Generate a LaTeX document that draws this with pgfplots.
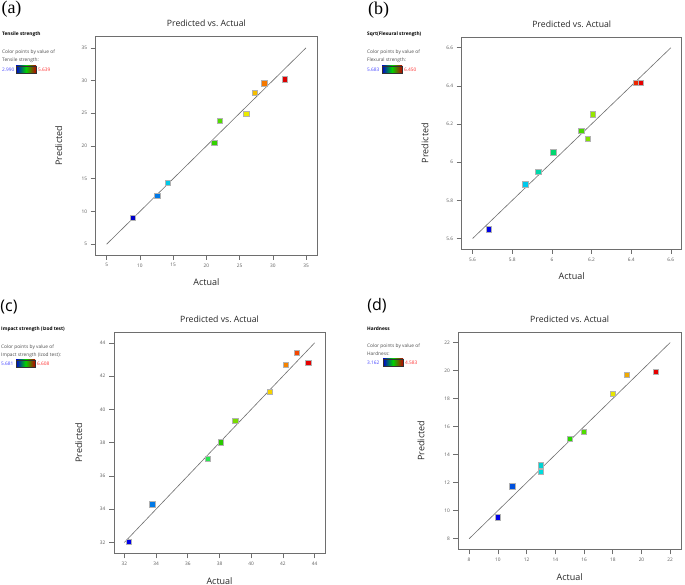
\documentclass[border=0pt]{standalone}
\usepackage{fontspec}
\setmainfont{Open Sans}
\newfontfamily\serifL{Liberation Serif}
\usepackage{pgfplots}
\pgfplotsset{compat=1.18}

% point colours, per panel, lowest to highest response
\definecolor{A1}{RGB}{0,0,200}\definecolor{A2}{RGB}{0,120,230}\definecolor{A3}{RGB}{0,200,230}
\definecolor{A4}{RGB}{50,210,0}\definecolor{A5}{RGB}{80,220,0}\definecolor{A6}{RGB}{235,235,0}
\definecolor{A7}{RGB}{245,190,0}\definecolor{A8}{RGB}{245,120,0}\definecolor{A9}{RGB}{220,0,0}
\definecolor{B1}{RGB}{0,0,230}\definecolor{B2}{RGB}{0,200,235}\definecolor{B3}{RGB}{0,215,170}
\definecolor{B4}{RGB}{0,215,110}\definecolor{B5}{RGB}{70,215,0}\definecolor{B6}{RGB}{130,225,0}
\definecolor{B7}{RGB}{150,230,0}\definecolor{B8}{RGB}{235,40,0}\definecolor{B9}{RGB}{230,0,0}
\definecolor{C1}{RGB}{0,0,230}\definecolor{C2}{RGB}{0,120,230}\definecolor{C3}{RGB}{40,230,80}
\definecolor{C4}{RGB}{40,200,0}\definecolor{C5}{RGB}{120,220,0}\definecolor{C6}{RGB}{245,210,0}
\definecolor{C7}{RGB}{245,130,0}\definecolor{C8}{RGB}{245,70,0}\definecolor{C9}{RGB}{230,0,0}
\definecolor{D1}{RGB}{0,0,230}\definecolor{D2}{RGB}{0,80,220}\definecolor{D3}{RGB}{0,220,220}
\definecolor{D4}{RGB}{0,210,210}\definecolor{D5}{RGB}{40,215,0}\definecolor{D6}{RGB}{80,220,0}
\definecolor{D7}{RGB}{230,230,0}\definecolor{D8}{RGB}{240,170,0}\definecolor{D9}{RGB}{230,0,0}
\definecolor{frame}{RGB}{110,110,110}
\definecolor{tlab}{RGB}{90,90,90}
\definecolor{lowc}{RGB}{70,70,255}
\definecolor{highc}{RGB}{255,50,50}
\definecolor{barlo}{RGB}{0,0,210}
\definecolor{barmid}{RGB}{0,210,0}
\definecolor{barhi}{RGB}{190,0,0}

\pgfplotsset{
    pva/.style={
        scale only axis, anchor=south west,
        axis line style={frame, line width=0.8pt},
        tick align=outside, xtick pos=bottom, ytick pos=left,
        major tick length=5pt,
        tick style={frame, line width=0.6pt},
        tick label style={font=\fontsize{4.8}{6}\selectfont, text=tlab},
        /pgf/number format/assume math mode=true,
        title={Predicted vs.\ Actual},
        title style={at={(axis description cs:0.5,1)}, anchor=center, yshift=7pt,
            font=\fontsize{8.7}{10}\selectfont, text=black!85},
        xlabel={Actual}, ylabel={Predicted},
        every axis x label/.style={at={(axis description cs:0.5,0)}, anchor=center,
            yshift=-27.5pt, font=\fontsize{9}{10}\selectfont, text=black!85},
        every axis y label/.style={at={(axis description cs:-0.167,0.5)}, anchor=center,
            rotate=90, font=\fontsize{9}{10}\selectfont, text=black!85},
        clip=false,
    },
    fit/.style={color=frame, line width=0.6pt, no marks},
    pt/.style={only marks, mark=square*, mark size=2.6pt,
        mark options={draw=black!30, fill=#1, line width=0.5pt}},
}
\tikzset{
    small/.style={anchor=west, inner sep=0pt, font=\fontsize{4.8}{6}\selectfont},
    bar/.style={draw=black!80, line width=0.4pt, left color=barlo,
        right color=barhi, middle color=barmid},
}

\begin{document}
\begin{tikzpicture}
\path[use as bounding box] (0pt,0pt) rectangle (685pt,585pt);

% ---------- (a) ----------
\node[font=\serifL\fontsize{18}{20}\selectfont, inner sep=0pt] at (11.5pt,576pt) {(a)};
\node[small, font=\bfseries\fontsize{4.8}{6}\selectfont] at (2pt,551pt) {Tensile strength};
\node[small, text=black!70] at (2pt,533pt) {Color points by value of};
\node[small, text=black!70] at (2pt,525pt) {Tensile strength:};
\node[small, text=lowc] at (2pt,515.5pt) {2.990};
\shade[bar] (16pt,512pt) rectangle (36pt,519pt);
\node[small, text=highc] at (38pt,515.5pt) {5.639};

\begin{axis}[pva, at={(95.7pt,330pt)}, width=221.3pt, height=218.3pt,
    xmin=3.35, xmax=36.65, ymin=3.35, ymax=36.7,
    xtick={5,10,...,35}, ytick={5,10,...,35}]
\addplot[fit] coordinates {(5,5) (35,35)};
\addplot[pt=A1] coordinates {(8.9,9.0)};
\addplot[pt=A2] coordinates {(12.6,12.4)};
\addplot[pt=A3] coordinates {(14.2,14.4)};
\addplot[pt=A4] coordinates {(21.2,20.5)};
\addplot[pt=A5] coordinates {(22.0,23.8)};
\addplot[pt=A6] coordinates {(26.0,24.9)};
\addplot[pt=A7] coordinates {(27.3,28.1)};
\addplot[pt=A8] coordinates {(28.7,29.6)};
\addplot[pt=A9] coordinates {(31.8,30.2)};
\end{axis}

% ---------- (b) ----------
\node[font=\serifL\fontsize{18}{20}\selectfont, inner sep=0pt] at (378.5pt,575pt) {(b)};
\node[small, font=\bfseries\fontsize{4.8}{6}\selectfont] at (367pt,551pt) {Sqrt(Flexural strength)};
\node[small, text=black!70] at (367pt,533pt) {Color points by value of};
\node[small, text=black!70] at (367pt,525pt) {Flexural strength:};
\node[small, text=lowc] at (367pt,515.5pt) {5.683};
\shade[bar] (382pt,512pt) rectangle (402pt,519pt);
\node[small, text=highc] at (404pt,515.5pt) {6.450};

\begin{axis}[pva, at={(461.7pt,336pt)}, width=220pt, height=211.7pt,
    xmin=5.545, xmax=6.655, ymin=5.545, ymax=6.655,
    xtick={5.6,5.8,6,6.2,6.4,6.6}, ytick={5.6,5.8,6,6.2,6.4,6.6}]
\addplot[fit] coordinates {(5.6,5.6) (6.6,6.6)};
\addplot[pt=B1] coordinates {(5.683,5.649)};
\addplot[pt=B2] coordinates {(5.866,5.884)};
\addplot[pt=B3] coordinates {(5.931,5.952)};
\addplot[pt=B4] coordinates {(6.007,6.052)};
\addplot[pt=B5] coordinates {(6.148,6.167)};
\addplot[pt=B6] coordinates {(6.180,6.122)};
\addplot[pt=B7] coordinates {(6.205,6.251)};
\addplot[pt=B8] coordinates {(6.424,6.418)};
\addplot[pt=B9] coordinates {(6.450,6.418)};
\end{axis}

% ---------- (c) ----------
\node[font=\fontsize{16}{18}\selectfont, inner sep=0pt] at (9pt,277.5pt) {(c)};
\node[small, font=\bfseries\fontsize{4.8}{6}\selectfont] at (1pt,256pt) {Impact strength (Izod test)};
\node[small, text=black!70] at (1pt,238pt) {Color points by value of};
\node[small, text=black!70] at (1pt,230pt) {Impact strength (Izod test):};
\node[small, text=lowc] at (1pt,221.5pt) {5.681};
\shade[bar] (16pt,218pt) rectangle (35pt,225pt);
\node[small, text=highc] at (37pt,221.5pt) {6.608};

\begin{axis}[pva, at={(114pt,31.7pt)}, width=211pt, height=221.3pt,
    xmin=31.35, xmax=44.65, ymin=31.35, ymax=44.65,
    xtick={32,34,...,44}, ytick={32,34,...,44}]
\addplot[fit] coordinates {(32,32) (44,44)};
\addplot[pt=C1] coordinates {(32.27,32.02)};
\addplot[pt=C2] coordinates {(33.76,34.30)};
\addplot[pt=C3] coordinates {(37.24,37.04)};
\addplot[pt=C4] coordinates {(38.06,38.02)};
\addplot[pt=C5] coordinates {(38.99,39.32)};
\addplot[pt=C6] coordinates {(41.17,41.06)};
\addplot[pt=C7] coordinates {(42.17,42.66)};
\addplot[pt=C8] coordinates {(42.85,43.38)};
\addplot[pt=C9] coordinates {(43.60,42.82)};
\end{axis}

% ---------- (d) ----------
\node[font=\fontsize{16}{18}\selectfont, inner sep=0pt] at (377pt,279.5pt) {(d)};
\node[small, font=\bfseries\fontsize{4.8}{6}\selectfont] at (367pt,256pt) {Hardness};
\node[small, text=black!70] at (367pt,239pt) {Color points by value of};
\node[small, text=black!70] at (367pt,231pt) {Hardness:};
\node[small, text=lowc] at (367pt,222.5pt) {3.162};
\shade[bar] (383pt,219pt) rectangle (403pt,226pt);
\node[small, text=highc] at (405pt,222.5pt) {4.583};

\begin{axis}[pva, at={(458.3pt,35.7pt)}, width=222.7pt, height=217.3pt,
    xmin=7.25, xmax=22.75, ymin=7.25, ymax=22.75,
    xtick={8,10,...,22}, ytick={8,10,...,22}]
\addplot[fit] coordinates {(8,8) (22,22)};
\addplot[pt=D1] coordinates {(10.0,9.54)};
\addplot[pt=D2] coordinates {(11.0,11.75)};
\addplot[pt=D3] coordinates {(13.0,12.77)};
\addplot[pt=D4] coordinates {(13.0,13.24)};
\addplot[pt=D5] coordinates {(15.0,15.14)};
\addplot[pt=D6] coordinates {(16.0,15.64)};
\addplot[pt=D7] coordinates {(18.0,18.37)};
\addplot[pt=D8] coordinates {(19.0,19.72)};
\addplot[pt=D9] coordinates {(21.0,19.89)};
\end{axis}
\end{tikzpicture}
\end{document}
